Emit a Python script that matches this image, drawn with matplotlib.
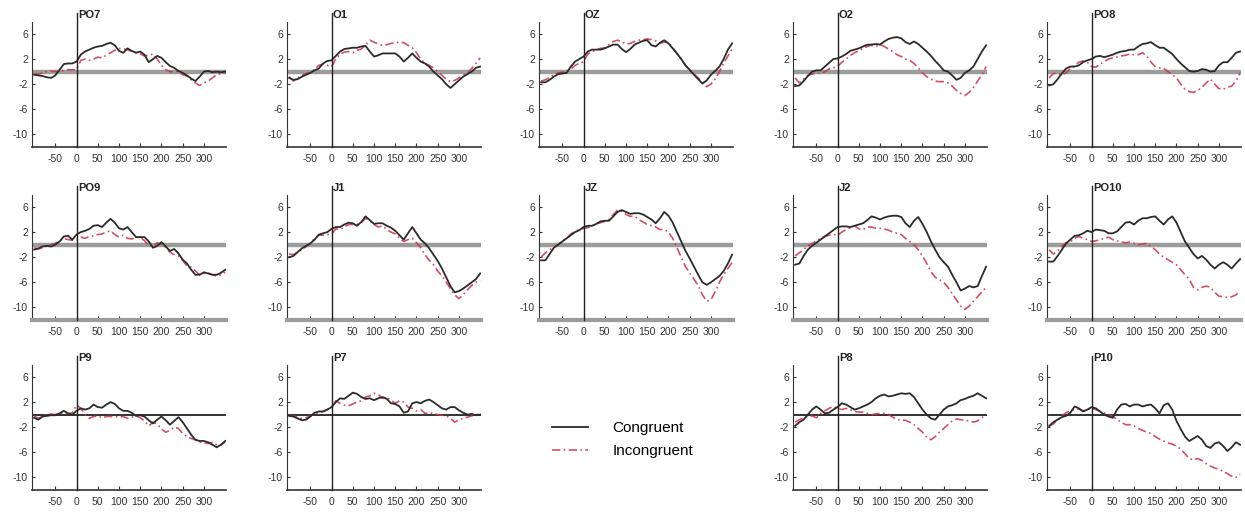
import numpy as np
import matplotlib
matplotlib.use("Agg")
import matplotlib.pyplot as plt

plt.rcParams['font.family'] = ['Liberation Sans', 'DejaVu Sans']
plt.rcParams['axes.unicode_minus'] = False

# time axis (ms)
t = [-100, -90, -80, -70, -60, -50, -40, -30, -20, -10, 0, 10, 20, 30, 40, 50,
     60, 70, 80, 90, 100, 110, 120, 130, 140, 150, 160, 170, 180, 190, 200, 210,
     220, 230, 240, 250, 260, 270, 280, 290, 300, 310, 320, 330, 340, 350]

# amplitudes (uV); con = congruent, inc = incongruent
po7_con = [-0.5, -0.6, -0.7, -0.9, -1.0, -0.6, 0.3, 1.2, 1.3, 1.3, 1.6, 2.7, 3.2, 3.5, 3.8, 4.0,
           4.1, 4.4, 4.6, 4.2, 3.3, 3.0, 3.7, 3.3, 3.0, 3.2, 2.7, 1.5, 2.0, 2.5, 2.2, 1.5,
           0.9, 0.6, 0.1, -0.2, -0.6, -1.1, -1.5, -0.8, 0.0, 0.1, -0.1, 0.0, -0.1, 0.0]
po7_inc = [-0.3, -0.4, -0.2, 0.0, 0.1, 0.0, 0.1, 0.2, 0.3, 0.3, 0.3, 1.8, 2.0, 1.8, 2.0, 2.3,
           2.2, 2.6, 3.0, 3.4, 3.7, 3.6, 3.5, 3.2, 3.0, 2.8, 2.5, 2.6, 2.8, 2.0, 1.0, 0.3,
           0.0, 0.0, 0.0, -0.5, -0.7, -1.3, -1.8, -2.2, -1.8, -1.5, -1.0, -0.5, -0.3, -0.2]

o1_con = [-1.0, -1.3, -1.2, -0.8, -0.5, -0.2, 0.2, 0.5, 1.3, 1.7, 1.8, 2.5, 3.2, 3.6, 3.7, 3.8,
          3.8, 4.0, 4.1, 3.2, 2.4, 2.6, 2.9, 2.9, 2.9, 2.9, 2.4, 1.6, 2.2, 2.9, 2.2, 1.6,
          1.3, 0.8, 0.0, -0.6, -1.2, -2.0, -2.6, -2.0, -1.4, -0.8, -0.4, 0.0, 0.6, 0.8]
o1_inc = [-0.8, -1.5, -1.0, -0.6, -0.3, -0.2, 0.4, 1.0, 1.2, 1.0, 0.8, 2.0, 2.8, 3.1, 3.2, 3.0,
          3.4, 3.6, 4.2, 5.0, 4.7, 4.4, 4.2, 4.3, 4.5, 4.6, 4.7, 4.6, 4.2, 3.8, 3.0, 2.0,
          1.3, 1.0, 0.6, 0.0, -0.6, -1.2, -1.6, -1.4, -1.0, -0.6, -0.2, 0.5, 1.3, 2.2]

oz_con = [-1.7, -1.7, -1.3, -0.8, -0.4, -0.3, -0.2, 0.8, 1.6, 2.0, 2.4, 3.2, 3.5, 3.5, 3.5, 3.7,
          4.0, 4.3, 4.3, 3.6, 3.1, 3.6, 4.3, 4.6, 4.9, 5.0, 4.2, 4.0, 4.6, 5.0, 4.5, 3.7,
          2.9, 2.0, 1.0, 0.3, -0.5, -1.2, -1.9, -1.4, -0.5, 0.1, 0.8, 2.0, 3.5, 4.5]
oz_inc = [-1.5, -1.3, -0.9, -0.5, -0.2, -0.1, 0.1, 0.4, 1.0, 1.3, 1.6, 2.8, 3.2, 3.5, 3.7, 3.8,
          4.3, 4.8, 5.0, 4.8, 4.4, 4.5, 4.8, 5.0, 5.1, 5.2, 5.1, 4.9, 4.5, 4.7, 4.6, 3.8,
          2.9, 2.0, 1.0, 0.2, -0.4, -1.0, -1.6, -2.4, -2.0, -1.2, 0.0, 1.3, 2.5, 3.6]

o2_con = [-2.3, -2.2, -1.5, -0.7, 0.0, 0.2, 0.2, 0.8, 1.4, 2.0, 2.1, 2.4, 2.8, 3.3, 3.5, 3.7,
          4.0, 4.3, 4.3, 4.4, 4.3, 4.8, 5.2, 5.4, 5.5, 5.3, 4.7, 4.4, 4.8, 4.4, 3.8, 3.2,
          2.5, 1.7, 1.0, 0.2, 0.0, -0.6, -1.3, -1.0, -0.2, 0.2, 0.8, 2.0, 3.2, 4.2]
o2_inc = [-1.0, -1.8, -1.2, -0.6, -0.4, -0.2, -0.3, 0.0, 0.4, 0.6, 0.8, 1.5, 2.0, 2.6, 3.0, 3.3,
          3.7, 4.0, 4.2, 4.0, 4.3, 4.0, 3.6, 3.2, 2.7, 2.4, 2.0, 1.8, 1.3, 0.6, -0.2, -0.8,
          -1.2, -1.5, -1.6, -1.6, -1.8, -2.3, -3.0, -3.5, -3.8, -3.3, -2.5, -1.5, -0.5, 0.8]

po8_con = [-2.2, -2.0, -1.2, -0.3, 0.5, 0.8, 0.8, 1.0, 1.5, 1.8, 2.0, 2.4, 2.5, 2.3, 2.5, 2.7,
           3.0, 3.2, 3.3, 3.5, 3.5, 4.0, 4.4, 4.5, 4.7, 4.2, 3.8, 3.8, 3.3, 2.8, 2.0, 1.3,
           0.7, 0.1, 0.0, 0.1, 0.4, 0.3, 0.0, 0.1, 1.0, 1.5, 1.5, 2.2, 3.0, 3.2]
po8_inc = [-1.0, -0.3, -0.3, -0.5, -0.2, 0.5, 1.0, 1.5, 1.7, 1.5, 0.8, 0.7, 1.2, 1.6, 2.0, 2.2,
           2.3, 2.5, 2.6, 2.8, 2.7, 2.7, 3.0, 2.5, 1.5, 0.8, 0.6, 0.5, 0.0, -0.5, -1.0, -2.0,
           -2.8, -3.2, -3.3, -3.0, -2.5, -1.8, -1.2, -2.0, -2.7, -2.8, -2.5, -2.3, -1.5, -0.2]

po9_con = [-0.8, -0.6, -0.3, -0.2, -0.3, 0.0, 0.5, 1.3, 1.4, 0.8, 1.6, 2.0, 2.2, 2.5, 3.0, 3.1,
           2.8, 3.5, 4.1, 3.5, 2.6, 2.4, 2.8, 2.0, 1.2, 1.2, 1.2, 0.5, -0.5, -0.2, 0.4, -0.3,
           -1.0, -0.7, -1.4, -2.4, -3.0, -4.0, -4.8, -4.8, -4.4, -4.6, -4.8, -4.8, -4.5, -4.0]
po9_inc = [-0.5, -0.7, -0.5, -0.2, 0.0, 0.2, 0.6, 1.0, 0.8, 0.7, 0.8, 1.2, 1.0, 1.3, 1.4, 1.6,
           1.7, 2.0, 2.2, 1.6, 1.2, 1.5, 1.0, 0.9, 1.1, 1.2, 0.6, -0.1, -0.3, 0.3, 0.0, -0.4,
           -1.2, -1.6, -1.8, -2.5, -3.4, -3.6, -4.2, -4.8, -4.6, -4.5, -4.8, -5.0, -4.8, -4.4]

j1_con = [-2.0, -1.8, -1.2, -0.6, -0.2, 0.2, 0.8, 1.6, 1.8, 2.0, 2.5, 2.8, 2.8, 3.2, 3.5, 3.4,
          3.0, 3.6, 4.5, 3.9, 3.3, 3.4, 3.4, 3.0, 2.7, 2.2, 1.5, 0.8, 1.8, 2.8, 1.8, 0.8,
          0.2, -0.6, -1.6, -2.6, -3.8, -5.2, -6.6, -7.6, -7.4, -7.0, -6.5, -6.0, -5.5, -4.6]
j1_inc = [-1.5, -1.6, -1.2, -0.8, -0.3, 0.2, 1.0, 1.5, 1.5, 1.6, 1.7, 2.5, 2.4, 2.8, 3.2, 3.2,
          3.2, 3.5, 4.2, 3.8, 3.2, 2.8, 3.0, 2.4, 2.0, 1.7, 1.0, 0.5, 0.8, 1.0, 0.3, -0.5,
          -1.6, -2.5, -3.2, -4.2, -5.0, -6.0, -7.0, -8.0, -8.6, -8.0, -7.2, -6.5, -6.0, -5.6]

jz_con = [-2.5, -2.5, -1.5, -0.5, 0.0, 0.5, 1.0, 1.5, 2.0, 2.3, 2.8, 3.0, 3.0, 3.3, 3.7, 3.8,
          3.8, 4.5, 5.2, 5.5, 5.2, 4.9, 5.0, 5.0, 4.8, 4.4, 4.0, 3.4, 4.2, 5.2, 4.6, 3.5,
          2.0, 0.5, -1.0, -2.2, -3.5, -4.8, -6.0, -6.4, -6.0, -5.5, -5.0, -4.2, -3.0, -1.6]
jz_inc = [-2.0, -1.3, -0.8, -0.4, 0.0, 0.6, 1.0, 1.7, 2.1, 2.4, 2.6, 2.7, 3.0, 3.3, 3.5, 3.7,
          4.0, 4.8, 5.5, 5.3, 4.8, 4.5, 4.5, 4.0, 3.6, 3.2, 3.0, 2.8, 2.4, 2.4, 2.0, 1.0,
          -0.5, -2.0, -3.5, -4.5, -5.5, -6.5, -8.0, -9.0, -8.8, -7.5, -6.0, -4.8, -3.8, -2.8]

j2_con = [-3.2, -3.0, -1.8, -0.8, -0.2, 0.3, 0.8, 1.3, 1.8, 2.3, 2.8, 2.9, 2.9, 2.8, 3.0, 3.2,
          3.4, 3.9, 4.5, 4.3, 4.0, 4.3, 4.5, 4.6, 4.6, 4.4, 3.4, 2.8, 3.8, 4.4, 3.3, 2.0,
          0.5, -0.8, -2.0, -2.8, -3.5, -4.8, -6.0, -7.3, -7.0, -6.6, -6.8, -6.6, -5.0, -3.5]
j2_inc = [-1.8, -1.3, -0.8, -0.2, 0.2, 0.6, 1.0, 1.3, 1.5, 1.6, 1.5, 2.0, 2.4, 2.7, 3.0, 2.5,
          2.4, 2.8, 2.8, 2.6, 2.6, 2.5, 2.3, 2.0, 1.8, 1.6, 1.0, 0.5, 0.0, -0.8, -1.8, -3.0,
          -4.3, -5.2, -5.6, -6.0, -6.8, -7.8, -8.8, -9.8, -10.3, -9.8, -9.0, -8.3, -7.5, -6.8]

po10_con = [-2.7, -2.7, -1.8, -0.8, 0.2, 0.8, 1.4, 1.5, 1.8, 2.2, 2.0, 2.4, 2.3, 2.2, 1.8, 1.8,
            2.1, 2.8, 3.5, 3.6, 3.2, 3.8, 4.2, 4.2, 4.4, 4.5, 3.8, 3.2, 4.0, 4.5, 3.5, 2.0,
            0.5, -0.5, -1.5, -2.2, -1.8, -2.4, -3.2, -3.8, -3.2, -2.8, -3.2, -3.8, -3.0, -2.3]
po10_inc = [-0.8, -1.5, -1.0, -0.3, 0.3, 0.4, 1.0, 1.3, 1.0, 0.8, 0.5, 0.6, 0.8, 1.0, 1.2, 0.8,
            0.6, 0.4, 0.3, 0.4, 0.2, 0.0, 0.1, 0.2, -0.3, -0.8, -1.5, -2.0, -2.4, -2.8, -3.2, -4.0,
            -4.8, -5.5, -6.8, -7.2, -6.8, -6.6, -6.8, -7.6, -8.2, -8.3, -8.4, -8.3, -8.0, -7.4]

p9_con = [-0.5, -0.8, -0.3, -0.2, -0.1, -0.1, 0.2, 0.6, 0.2, 0.0, 0.6, 1.0, 0.8, 1.0, 1.6, 1.2,
          1.1, 1.6, 2.0, 1.7, 1.0, 0.6, 0.6, 0.3, -0.2, -0.1, -0.3, -0.9, -1.4, -0.8, -0.3, -0.9,
          -1.6, -1.0, -0.4, -1.2, -2.2, -3.2, -4.0, -4.2, -4.2, -4.4, -4.8, -5.2, -4.8, -4.2]
p9_inc = [-0.2, -0.6, -0.3, 0.0, 0.1, 0.0, 0.2, 0.3, 0.1, 0.3, 1.5, 1.0, 0.0, -0.6, -0.3, -0.2,
          -0.5, -0.3, -0.3, -0.3, -0.4, -0.3, -0.6, -0.4, -0.2, -0.5, -1.0, -1.8, -1.2, -1.5, -2.3, -2.8,
          -2.5, -2.0, -2.2, -3.0, -3.5, -3.8, -4.0, -4.4, -4.5, -4.6, -4.4, -4.8, -4.8, -4.4]

p7_con = [-0.2, -0.3, -0.6, -0.9, -0.8, -0.3, 0.3, 0.5, 0.5, 0.8, 1.2, 2.0, 2.6, 2.5, 3.0, 3.5,
          3.3, 2.8, 2.5, 2.6, 2.3, 2.6, 2.8, 2.5, 1.8, 1.7, 1.3, 0.3, 0.5, 1.8, 2.0, 1.8,
          2.2, 2.4, 2.0, 1.5, 1.0, 0.8, 1.2, 1.2, 0.7, 0.3, 0.0, 0.1, -0.1, 0.0]
p7_inc = [-0.1, -0.2, -0.4, -0.6, -0.5, -0.2, 0.1, 0.3, 0.5, 0.8, 1.2, 2.2, 1.8, 1.5, 1.4, 1.7,
          2.0, 2.2, 2.8, 3.0, 3.4, 3.2, 2.6, 2.8, 2.3, 1.8, 2.2, 2.0, 1.2, 1.0, 0.6, 0.8,
          0.2, 0.3, 0.2, 0.0, -0.1, -0.2, -0.6, -1.2, -0.8, -0.6, -0.4, -0.2, 0.0, 0.1]

p8_con = [-1.8, -1.2, -0.8, 0.0, 0.8, 1.3, 0.8, 0.2, 0.3, 0.8, 1.2, 1.8, 1.6, 1.2, 0.8, 1.0,
          1.3, 1.6, 2.0, 2.6, 3.0, 3.2, 2.9, 3.0, 3.2, 3.4, 3.3, 3.4, 2.8, 1.8, 0.8, 0.0,
          -0.6, -0.8, 0.0, 0.8, 1.3, 1.5, 1.8, 2.3, 2.5, 2.8, 3.0, 3.4, 3.0, 2.6]
p8_inc = [-1.2, -0.8, -0.5, -0.3, -0.2, -0.5, 0.2, 0.6, 1.0, 1.3, 1.0, 0.8, 1.0, 0.8, 0.5, 0.4,
          0.4, 0.2, 0.0, 0.1, 0.2, 0.2, 0.0, -0.4, -0.8, -0.9, -0.9, -1.2, -1.6, -2.2, -2.8, -3.6,
          -4.0, -3.5, -2.8, -2.2, -1.6, -1.0, -0.7, -0.8, -0.9, -1.0, -1.2, -1.0, -0.5, 0.1]

p10_con = [-1.8, -1.2, -0.8, -0.4, -0.2, 0.3, 1.3, 1.0, 0.5, 0.8, 1.2, 1.0, 0.5, 0.0, -0.3, -0.5,
           0.8, 1.6, 1.7, 1.3, 1.6, 1.6, 1.3, 1.5, 1.6, 1.0, 0.2, 1.5, 1.8, 0.8, -1.0, -2.3,
           -3.5, -4.2, -3.8, -3.4, -4.0, -5.0, -5.3, -4.6, -4.4, -5.0, -5.8, -5.2, -4.4, -4.8]
p10_inc = [-1.8, -1.5, -0.8, -0.2, 0.3, 0.6, 0.8, 0.9, 0.6, 0.8, 1.0, 0.8, 0.5, 0.3, 0.0, -0.3,
           -0.8, -1.2, -1.6, -1.6, -1.8, -2.2, -2.5, -2.8, -3.0, -3.5, -3.9, -4.2, -4.5, -4.7, -5.0, -5.5,
           -6.2, -7.0, -7.2, -7.0, -7.3, -7.8, -8.2, -8.5, -8.7, -9.0, -9.4, -9.8, -10.0, -9.5]

# (label, row, col, congruent, incongruent)
panels = [
    ("PO7", 0, 0, po7_con, po7_inc), ("O1", 0, 1, o1_con, o1_inc),
    ("OZ", 0, 2, oz_con, oz_inc), ("O2", 0, 3, o2_con, o2_inc),
    ("PO8", 0, 4, po8_con, po8_inc),
    ("PO9", 1, 0, po9_con, po9_inc), ("J1", 1, 1, j1_con, j1_inc),
    ("JZ", 1, 2, jz_con, jz_inc), ("J2", 1, 3, j2_con, j2_inc),
    ("PO10", 1, 4, po10_con, po10_inc),
    ("P9", 2, 0, p9_con, p9_inc), ("P7", 2, 1, p7_con, p7_inc),
    ("P8", 2, 3, p8_con, p8_inc), ("P10", 2, 4, p10_con, p10_inc),
]

W, H = 1245, 517
fig = plt.figure(figsize=(W / 100, H / 100), dpi=100)

col_left = [32, 287, 539, 793, 1047]
row_top = [22, 195, 365]
ax_w, ax_h = 194, 125

red = "#c8334a"
lines = None
for name, r, c, con, inc in panels:
    ax = fig.add_axes([col_left[c] / W, 1 - (row_top[r] + ax_h) / H, ax_w / W, ax_h / H])
    ax.set_xlim(-105, 352)
    ax.set_ylim(-12, 7.9)
    if r < 2:
        ax.axhline(0, color="#9c9c9c", lw=3.2, zorder=1)
    else:
        ax.axhline(0, color="#222222", lw=1.3, zorder=1)
    l1, = ax.plot(t, con, color="#2b2b2b", lw=1.3, zorder=3)
    l2, = ax.plot(t, inc, color=red, lw=1.2, ls=(0, (5, 2, 1, 2)), alpha=0.85, zorder=2)
    lines = (l1, l2)
    ax.plot([0, 0], [-12, 9.4], color="#222222", lw=1.0, clip_on=False, zorder=4)
    ax.text(3, 8.2, name, fontsize=8, fontweight="bold", ha="left", va="bottom", color="#222222")
    ax.spines["top"].set_visible(False)
    ax.spines["right"].set_visible(False)
    ax.spines["left"].set_color("#333333")
    if r == 1:
        ax.spines["bottom"].set_color("#9c9c9c")
        ax.spines["bottom"].set_linewidth(3)
    else:
        ax.spines["bottom"].set_color("#333333")
        ax.spines["bottom"].set_linewidth(1.2)
    ax.set_xticks([-50, 0, 50, 100, 150, 200, 250, 300])
    ax.set_yticks([6, 2, -2, -6, -10])
    ax.tick_params(axis="x", direction="in", length=3, labelsize=7.5, pad=5, colors="#333333")
    ax.tick_params(axis="y", direction="in", length=2, labelsize=7.5, pad=3, colors="#333333")

fig.legend(lines, ["Congruent", "Incongruent"], loc="center", bbox_to_anchor=(0.5, 0.15),
           frameon=False, fontsize=11, handlelength=2.4, handletextpad=1.6, labelspacing=0.6)

fig.savefig("out.png", dpi=100)
